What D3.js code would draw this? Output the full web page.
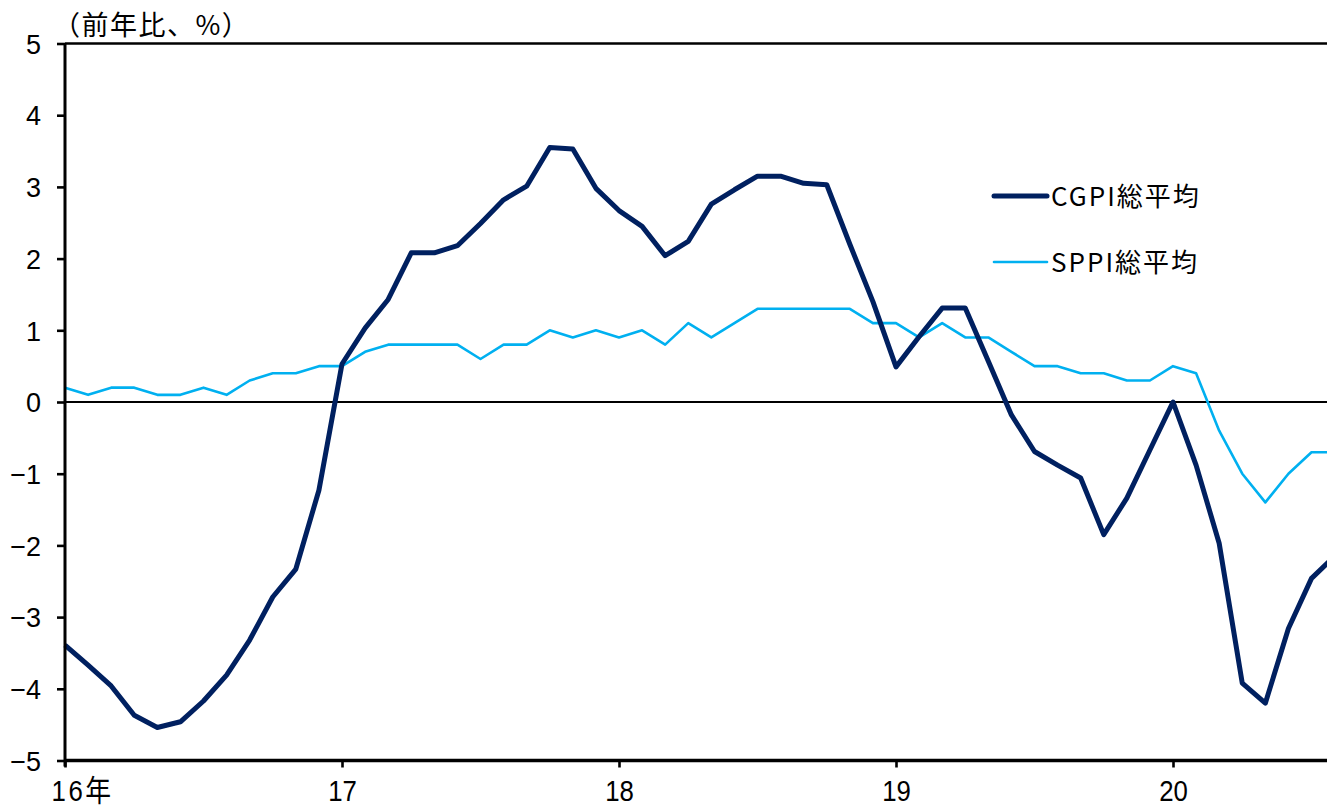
<!DOCTYPE html>
<html><head><meta charset="utf-8">
<script src="https://cdn.jsdelivr.net/npm/d3@7"></script>
<style>body{margin:0;background:#fff;overflow:hidden}svg{display:block}</style>
</head><body>
<svg id="chart" width="1327" height="807"></svg>
<script>
// ---- data ----
const months = [
 "2016-01","2016-02","2016-03","2016-04","2016-05","2016-06","2016-07","2016-08","2016-09","2016-10","2016-11","2016-12",
 "2017-01","2017-02","2017-03","2017-04","2017-05","2017-06","2017-07","2017-08","2017-09","2017-10","2017-11","2017-12",
 "2018-01","2018-02","2018-03","2018-04","2018-05","2018-06","2018-07","2018-08","2018-09","2018-10","2018-11","2018-12",
 "2019-01","2019-02","2019-03","2019-04","2019-05","2019-06","2019-07","2019-08","2019-09","2019-10","2019-11","2019-12",
 "2020-01","2020-02","2020-03","2020-04","2020-05","2020-06","2020-07","2020-08"];
const cgpi = [
 -3.39,-3.67,-3.96,-4.37,-4.54,-4.46,-4.17,-3.81,-3.32,-2.72,-2.33,-1.23,
 0.53,1.03,1.43,2.08,2.08,2.18,2.49,2.82,3.01,3.55,3.53,2.98,
 2.67,2.45,2.04,2.24,2.76,2.96,3.15,3.15,3.05,3.03,2.20,1.40,
 0.49,0.91,1.31,1.31,0.57,-0.18,-0.69,-0.88,-1.06,-1.85,-1.34,-0.67,
 0.00,-0.88,-1.97,-3.92,-4.20,-3.16,-2.46,-2.15];
const sppi = [
 0.2,0.1,0.2,0.2,0.1,0.1,0.2,0.1,0.3,0.4,0.4,0.5,
 0.5,0.7,0.8,0.8,0.8,0.8,0.6,0.8,0.8,1.0,0.9,1.0,
 0.9,1.0,0.8,1.1,0.9,1.1,1.3,1.3,1.3,1.3,1.3,1.1,
 1.1,0.9,1.1,0.9,0.9,0.7,0.5,0.5,0.4,0.4,0.3,0.3,
 0.5,0.4,-0.4,-1.0,-1.4,-1.0,-0.7,-0.7];
const xTickMonths = ["2016-01","2017-01","2018-01","2019-01","2020-01"];
const xTickLabels = ["16年","17","18","19","20"];
const yTicks = [-5,-4,-3,-2,-1,0,1,2,3,4,5];
const seriesNames = ["CGPI総平均","SPPI総平均"];
const unitLabel = "（前年比、%）";

// ---- layout ----
const W = 1327, H = 807;
const svg = d3.select("#chart");
const plotLeft = 65, plotTop = 43.5, plotBottom = 760.5;
const idx = m => months.indexOf(m);
const x = d3.scaleLinear().domain([0, 48]).range([plotLeft, 1173]);
const y = d3.scaleLinear().domain([-5, 5]).range([plotBottom, plotTop]);

const lineGen = d3.line().x((d,i) => x(i)).y(d => y(d));

// zero line
svg.append("line").attr("x1", plotLeft).attr("x2", W).attr("y1", y(0)).attr("y2", y(0))
  .attr("stroke", "#000").attr("stroke-width", 2.2);

// series
svg.append("path").datum(sppi).attr("d", lineGen).attr("fill","none")
  .attr("stroke","#00B0F0").attr("stroke-width",2.6).attr("stroke-linejoin","round");
svg.append("path").datum(cgpi).attr("d", lineGen).attr("fill","none")
  .attr("stroke","#002060").attr("stroke-width",5).attr("stroke-linejoin","round");

// top border
svg.append("line").attr("x1", plotLeft).attr("x2", W).attr("y1", y(5)).attr("y2", y(5))
  .attr("stroke","#000").attr("stroke-width",2.6);

// y axis
const yAxis = d3.axisLeft(y).tickValues(yTicks).tickSize(8).tickPadding(16)
  .tickFormat(d => d < 0 ? "\u2212" + Math.abs(d) : String(d));
const gy = svg.append("g").attr("transform", `translate(${plotLeft},0)`).call(yAxis);
gy.select(".domain").attr("stroke","#000").attr("stroke-width",3).attr("d", `M0,${plotTop}V${plotBottom+6}`);
gy.selectAll(".tick line").attr("stroke","#000").attr("stroke-width",2.6);
gy.selectAll(".tick text").attr("font-family","'Liberation Sans', Arial, sans-serif")
  .attr("font-size",27).attr("fill","#000").attr("dy","0.36em");

// x axis
const xAxis = d3.axisBottom(x).tickValues(xTickMonths.map(idx)).tickSize(7).tickPadding(12)
  .tickFormat((d,i) => xTickLabels[i]);
const gx = svg.append("g").attr("transform", `translate(0,${plotBottom})`).call(xAxis);
gx.select(".domain").attr("stroke","#000").attr("stroke-width",3.6).attr("d", `M${plotLeft},0H${W}`);
gx.selectAll(".tick line").attr("stroke","#000").attr("stroke-width",2.6);
gx.selectAll(".tick text").attr("font-family","'Liberation Sans', 'Noto Sans CJK JP', sans-serif")
  .attr("font-size",30).attr("fill","#000").attr("dy","0.71em")
  .attr("transform","scale(0.86,1)");
gx.selectAll(".tick text").filter((d,i) => i === 0)
  .attr("text-anchor","start").attr("x", (51 - plotLeft) / 0.86).attr("letter-spacing", 3);

// unit label
svg.append("text").attr("x", 53).attr("y", 35)
  .attr("font-family","'Noto Sans CJK JP', sans-serif").attr("font-size",27)
  .attr("letter-spacing", 1.5).attr("fill","#000").text(unitLabel);

// legend
const legendY = [196, 262];
const legendColors = ["#002060","#00B0F0"];
const legendWidths = [5, 2.6];
seriesNames.forEach((name, i) => {
  svg.append("line").attr("x1", 994).attr("x2", 1047).attr("y1", legendY[i]).attr("y2", legendY[i])
    .attr("stroke", legendColors[i]).attr("stroke-width", legendWidths[i]).attr("stroke-linecap","round");
  svg.append("text").attr("x", 1051).attr("y", legendY[i] + 10)
    .attr("font-family","'Noto Sans CJK JP', sans-serif").attr("font-size",26)
    .attr("letter-spacing", 2).attr("fill","#000").text(name);
});
</script>
</body></html>
